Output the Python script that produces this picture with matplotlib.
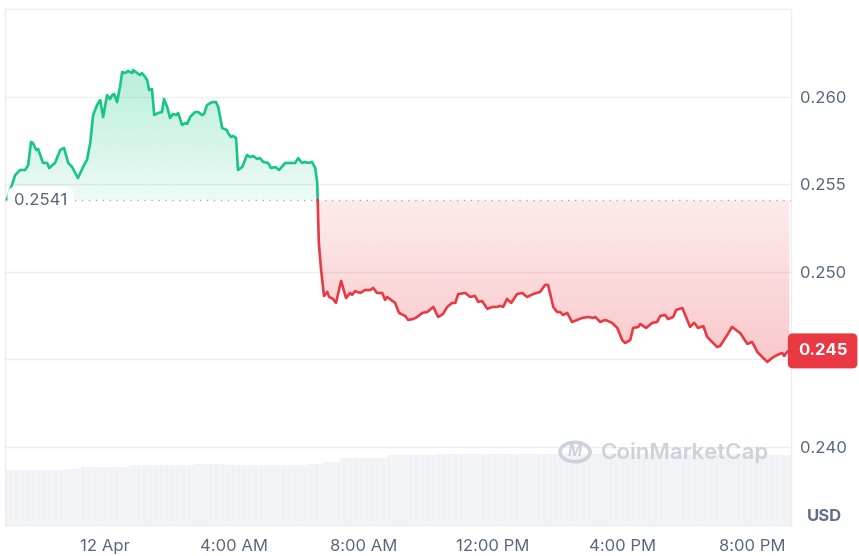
import matplotlib
matplotlib.use("Agg")
import matplotlib.pyplot as plt
import numpy as np
from matplotlib.patches import Polygon, Circle

plt.rcParams['font.family'] = ['Inter', 'DejaVu Sans']
plt.rcParams['hatch.linewidth'] = 0.5

# hours relative to 12 Apr 00:00
hours = [-3.03, -2.78, -2.63, -2.47, -2.38, -2.29, -2.23, -2.13, -2.07, -1.92,
         -1.79, -1.73, -1.55, -1.39, -1.27, -1.14, -1.02, -0.84, -0.62, -0.56,
         -0.46, -0.37, -0.25, -0.15, -0.06, 0.06, 0.15, 0.22, 0.28, 0.37,
         0.46, 0.53, 0.62, 0.71, 0.84, 0.87, 0.99, 1.08, 1.14, 1.24,
         1.30, 1.36, 1.45, 1.52, 1.64, 1.76, 1.82, 1.92, 2.01, 2.10,
         2.20, 2.26, 2.38, 2.47, 2.54, 2.63, 2.78, 2.88, 3.00, 3.06,
         3.15, 3.31, 3.43, 3.50, 3.62, 3.77, 3.80, 3.90, 3.96, 4.05,
         4.11, 4.24, 4.39, 4.48, 4.58, 4.70, 4.79, 4.89, 5.04, 5.13,
         5.26, 5.38, 5.57, 5.72, 5.88, 5.97, 6.09, 6.19, 6.28, 6.40,
         6.50, 6.56,
         6.61, 6.68, 6.77, 6.87, 6.93, 7.05, 7.14, 7.30, 7.45, 7.58,
         7.64, 7.73, 7.89, 8.04, 8.20, 8.29, 8.41, 8.57, 8.66, 8.72,
         8.97, 9.09, 9.28, 9.37, 9.53, 9.65, 9.81, 9.96, 10.15, 10.30,
         10.45, 10.58, 10.73, 10.83, 10.92, 11.14, 11.29, 11.44, 11.54, 11.66,
         11.82, 11.97, 12.12, 12.22, 12.31, 12.43, 12.56, 12.74, 12.90, 13.05,
         13.24, 13.45, 13.61, 13.70, 13.86, 13.98, 14.07, 14.17, 14.29, 14.44,
         14.60, 14.75, 14.94, 15.09, 15.16, 15.31, 15.47, 15.68, 15.84, 15.99,
         16.08, 16.24, 16.33, 16.49, 16.55, 16.73, 16.92, 17.07, 17.17, 17.32,
         17.41, 17.57, 17.66, 17.85, 17.94, 18.09, 18.22, 18.34, 18.50, 18.62,
         18.77, 18.93, 19.02, 19.24, 19.39, 19.55, 19.64, 19.86, 20.01, 20.17,
         20.32, 20.48, 20.63, 20.79, 20.94, 21.00, 21.09, 21.16]

prices = [0.25417, 0.25554, 0.25583, 0.25583, 0.25611, 0.25743, 0.25737, 0.25697, 0.25703, 0.25623,
          0.25623, 0.25594, 0.25623, 0.25697, 0.25709, 0.25623, 0.25600, 0.25537, 0.25623, 0.25640,
          0.25737, 0.25897, 0.25954, 0.25983, 0.25886, 0.26011, 0.25989, 0.26011, 0.26017, 0.25971,
          0.26057, 0.26143, 0.26137, 0.26149, 0.26137, 0.26154, 0.26137, 0.26126, 0.26137, 0.26114,
          0.26097, 0.26040, 0.26046, 0.25897, 0.25909, 0.25914, 0.25989, 0.25943, 0.25880, 0.25903,
          0.25897, 0.25909, 0.25840, 0.25851, 0.25846, 0.25886, 0.25914, 0.25914, 0.25897, 0.25903,
          0.25954, 0.25971, 0.25971, 0.25943, 0.25823, 0.25811, 0.25794, 0.25771, 0.25777, 0.25766,
          0.25583, 0.25600, 0.25669, 0.25657, 0.25663, 0.25646, 0.25651, 0.25629, 0.25623, 0.25594,
          0.25600, 0.25583, 0.25623, 0.25623, 0.25623, 0.25651, 0.25623, 0.25629, 0.25623, 0.25629,
          0.25594, 0.25509,
          0.25166, 0.25011, 0.24863, 0.24886, 0.24857, 0.24846, 0.24823, 0.24949, 0.24851, 0.24880,
          0.24869, 0.24891, 0.24880, 0.24897, 0.24897, 0.24909, 0.24880, 0.24880, 0.24840, 0.24857,
          0.24823, 0.24766, 0.24749, 0.24726, 0.24731, 0.24743, 0.24766, 0.24771, 0.24800, 0.24743,
          0.24760, 0.24800, 0.24823, 0.24823, 0.24874, 0.24880, 0.24857, 0.24863, 0.24829, 0.24834,
          0.24789, 0.24800, 0.24800, 0.24806, 0.24800, 0.24846, 0.24823, 0.24874, 0.24880, 0.24857,
          0.24874, 0.24886, 0.24926, 0.24926, 0.24800, 0.24771, 0.24771, 0.24754, 0.24766, 0.24714,
          0.24726, 0.24737, 0.24743, 0.24737, 0.24743, 0.24714, 0.24726, 0.24709, 0.24680, 0.24611,
          0.24594, 0.24611, 0.24680, 0.24686, 0.24703, 0.24680, 0.24709, 0.24714, 0.24749, 0.24754,
          0.24731, 0.24743, 0.24783, 0.24794, 0.24754, 0.24686, 0.24709, 0.24680, 0.24691, 0.24629,
          0.24600, 0.24571, 0.24577, 0.24640, 0.24686, 0.24663, 0.24651, 0.24589, 0.24600, 0.24543,
          0.24514, 0.24486, 0.24509, 0.24526, 0.24537, 0.24520, 0.24543, 0.24549]

# volume, half-hour bars (arbitrary units)
vol_hours = [-3.0, -2.5, -2.0, -1.5, -1.0, -0.5, 0.0, 0.5, 1.0, 1.5,
             2.0, 2.5, 3.0, 3.5, 4.0, 4.5, 5.0, 5.5, 6.0, 6.5,
             7.0, 7.5, 8.0, 8.5, 9.0, 9.5, 10.0, 10.5, 11.0, 11.5,
             12.0, 12.5, 13.0, 13.5, 14.0, 14.5, 15.0, 15.5, 16.0, 16.5,
             17.0, 17.5, 18.0, 18.5, 19.0, 19.5, 20.0, 20.5, 21.0]
volumes = [5.5, 5.5, 5.5, 5.5, 5.6, 5.8, 5.8, 5.8, 6.0, 6.0,
           6.0, 6.0, 6.1, 6.1, 6.0, 6.0, 6.0, 6.0, 6.0, 6.1,
           6.3, 6.7, 6.7, 6.7, 7.0, 7.0, 7.0, 7.1, 7.1, 7.1,
           7.1, 7.1, 7.1, 7.1, 7.1, 7.1, 7.1, 7.1, 7.1, 7.1,
           7.1, 7.1, 7.1, 7.1, 7.1, 7.1, 7.1, 7.0, 7.0]

open_price = 0.2541
last_label = "0.245"
y_ticks = [0.240, 0.245, 0.250, 0.255, 0.260]
x_ticks = [0, 4, 8, 12, 16, 20]
x_labels = ["12 Apr", "4:00 AM", "8:00 AM", "12:00 PM", "4:00 PM", "8:00 PM"]

GREEN = "#16c784"
RED = "#ea3943"
GRAY = "#58667e"
MARK = "#cdd2da"

fig = plt.figure(figsize=(8.59, 5.56), dpi=100)
ax = fig.add_axes([0.0064, 0.0558, 0.914, 0.928])

xlim = (-3.08, 21.20)
ylim = (0.23554, 0.26503)

# volume on its own scale
axv = ax.twinx()
axv.bar(vol_hours, volumes, width=0.5, color="#f0f2f5", edgecolor="#f8f9fb",
        linewidth=0, hatch="|||", zorder=1)
axv.set_ylim(0, 51.6)
axv.set_yticks([])
axv.set_zorder(0)
ax.set_zorder(1)
ax.patch.set_visible(False)
for s in axv.spines.values():
    s.set_visible(False)

hours = np.array(hours)
prices = np.array(prices)

# split at the crossing of the open price
split = 92
h0, h1 = hours[split - 1], hours[split]
p0, p1 = prices[split - 1], prices[split]
hx = h0 + (p0 - open_price) / (p0 - p1) * (h1 - h0)
gx = np.append(hours[:split], hx)
gy = np.append(prices[:split], open_price)
rx = np.insert(hours[split:], 0, hx)
ry = np.insert(prices[split:], 0, open_price)


def gradient_fill(xs, ys, color, a_near, a_far, above):
    verts = list(zip(xs, ys)) + [(xs[-1], open_price), (xs[0], open_price)]
    patch = Polygon(verts, closed=True, facecolor="none", edgecolor="none")
    ax.add_patch(patch)
    lo = min(ys.min(), open_price)
    hi = max(ys.max(), open_price)
    n = 256
    rgb = matplotlib.colors.to_rgb(color)
    arr = np.zeros((n, 1, 4))
    arr[:, 0, :3] = rgb
    if above:
        arr[:, 0, 3] = np.linspace(a_near, a_far, n)
    else:
        arr[:, 0, 3] = np.linspace(a_far, a_near, n)
    im = ax.imshow(arr, extent=[xs[0], xs[-1], lo, hi], origin="lower",
                   aspect="auto", zorder=2, interpolation="bilinear")
    im.set_clip_path(patch)


gradient_fill(gx, gy, GREEN, 0.08, 0.30, True)
gradient_fill(rx, ry, RED, 0.10, 0.28, False)

ax.plot(gx, gy, color=GREEN, lw=1.9, zorder=4, solid_joinstyle="round")
ax.plot(rx, ry, color=RED, lw=1.9, zorder=4, solid_joinstyle="round")

ax.axhline(open_price, color="#a6adb9", lw=1.0, ls=(0, (1, 4)), zorder=3)

ax.set_xlim(*xlim)
ax.set_ylim(*ylim)
axv.set_xlim(*xlim)

ax.yaxis.tick_right()
ax.set_yticks(y_ticks)
# the 0.245 tick sits under the last-price tag
ax.set_yticklabels(["" if f"{t:.3f}" == last_label else f"{t:.3f}" for t in y_ticks])
ax.set_xticks(x_ticks)
ax.set_xticklabels(x_labels)
ax.tick_params(axis="y", length=0, pad=7, labelsize=12, labelcolor=GRAY)
ax.tick_params(axis="x", length=0, pad=10, labelsize=12, labelcolor=GRAY)
ax.grid(axis="y", color="#eceef1", lw=1, zorder=0)
for s in ax.spines.values():
    s.set_color("#eceef1")
    s.set_linewidth(1)

# open price tag
ax.annotate(f"{open_price:.4f}", xy=(0.011, open_price), xycoords=("axes fraction", "data"),
            ha="left", va="center", fontsize=12, color=GRAY, zorder=6,
            bbox=dict(boxstyle="round,pad=0.4,rounding_size=0.6", fc="white", ec="none"))

# last price tag
ax.annotate(last_label, xy=(1.0, prices[-1]), xycoords=("axes fraction", "data"),
            xytext=(32, 0), textcoords="offset pixels",
            ha="center", va="center", fontsize=12, fontweight="bold", color="white",
            zorder=6, annotation_clip=False,
            bbox=dict(boxstyle="round,pad=0.6,rounding_size=0.3", fc=RED, ec="none"))

fig.text(0.9395, 0.0705, "USD", ha="left", va="center", fontsize=12,
         fontweight="bold", color="#616e85")

# watermark
fig.text(0.798, 0.187, "CoinMarketCap", ha="center", va="center", fontsize=16,
         fontweight="semibold", color=MARK, zorder=3)
ring = Circle((575 / 859, 1 - 452 / 556), 15 / 859, transform=fig.transFigure,
              fill=False, ec=MARK, lw=2.6)
fig.patches.append(ring)
fig.text(575 / 859, 1 - 452 / 556, "M", ha="center", va="center", fontsize=11,
         fontweight="bold", style="italic", color=MARK)

fig.savefig("out.png", dpi=100)
